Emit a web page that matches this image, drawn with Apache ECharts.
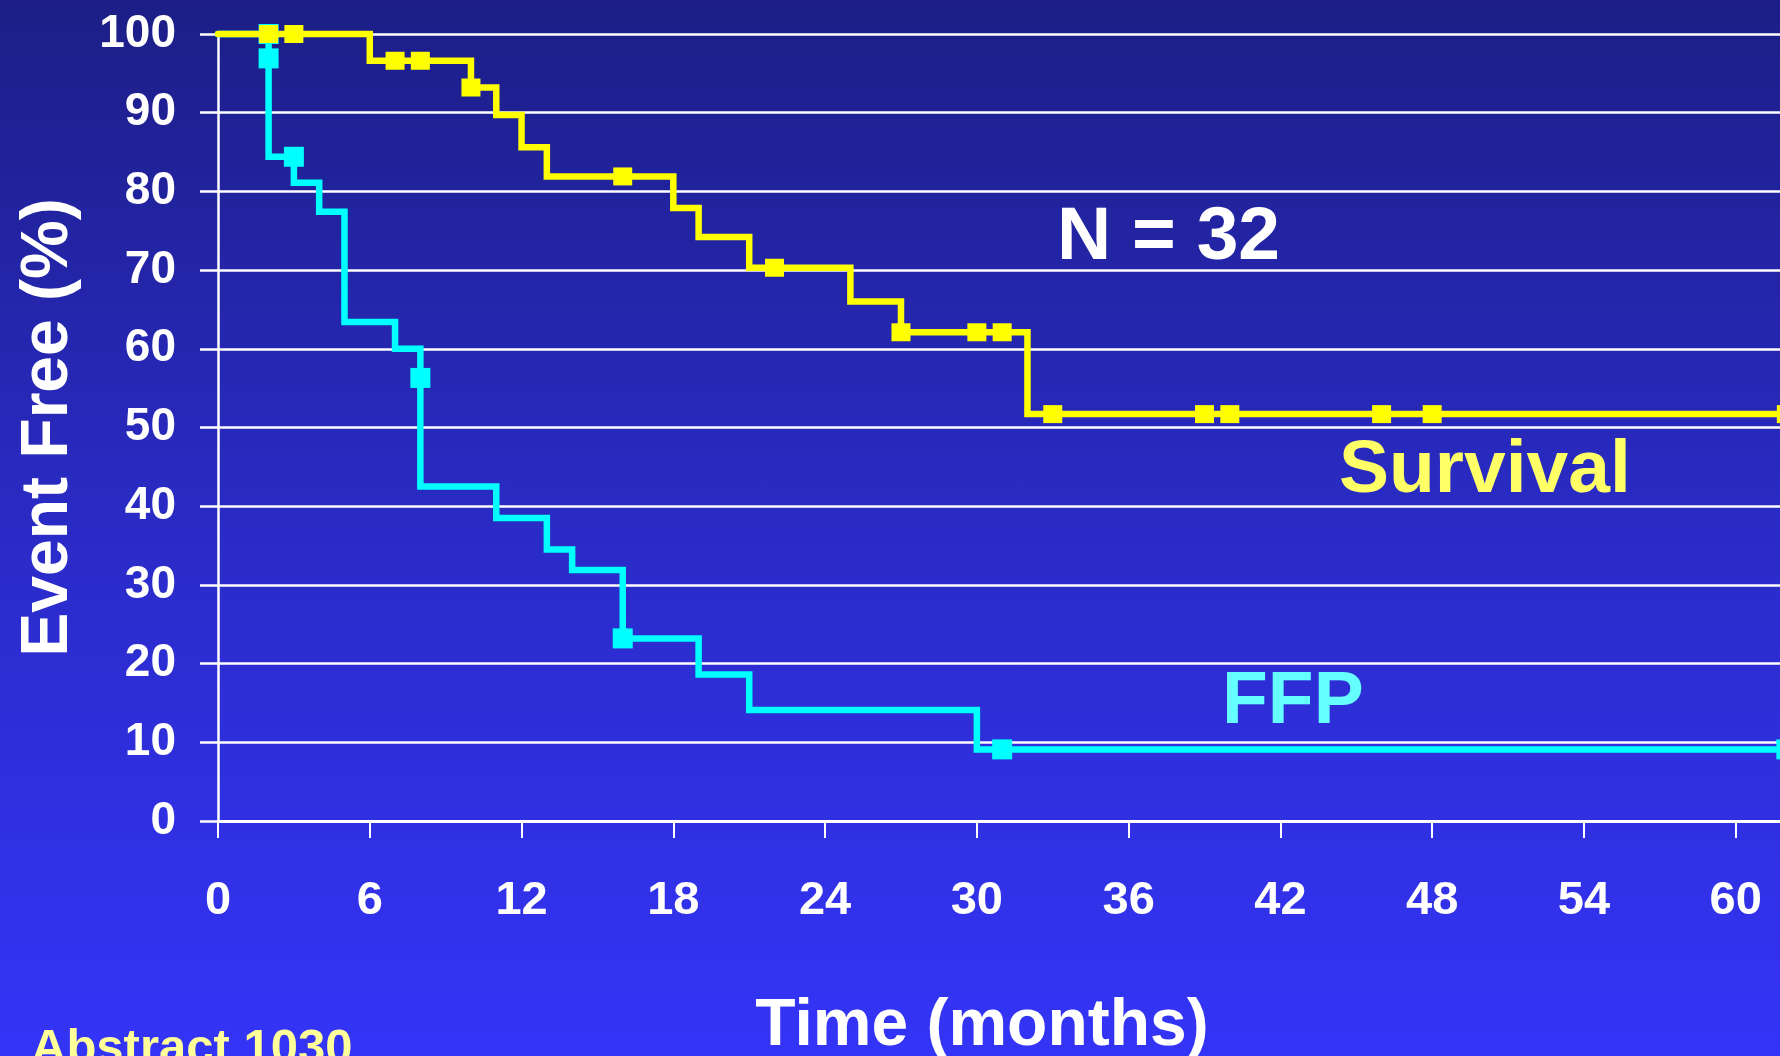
<!DOCTYPE html>
<html><head><meta charset="utf-8">
<script src="https://cdn.jsdelivr.net/npm/echarts@6/dist/echarts.min.js"></script>
<style>
html,body{margin:0;padding:0;width:1780px;height:1056px;overflow:hidden;}
#c{width:1780px;height:1056px;background:linear-gradient(to bottom,#1c1e86 0%,#2a2bc6 50%,#3434f8 100%);}
</style></head><body><div id="c"></div>
<script>
// Tick labels
const xTicks = [0, 6, 12, 18, 24, 30, 36, 42, 48, 54, 60];
const yTicks = [0, 10, 20, 30, 40, 50, 60, 70, 80, 90, 100];

// Survival (Kaplan-Meier steps: time of drop, level after drop)
const survTimes  = [0, 6, 10, 11, 12, 13, 18, 19, 21, 25, 27, 32, 62];
const survValues = [100, 96.6, 93.2, 89.7, 85.6, 81.9, 77.9, 74.2, 70.3, 66.0, 62.1, 51.7, 51.7];
const survCensorTimes  = [2, 3, 7, 8, 10, 16, 22, 27, 30, 31, 33, 39, 40, 46, 48, 62];
const survCensorValues = [100, 100, 96.6, 96.6, 93.2, 81.9, 70.3, 62.1, 62.1, 62.1, 51.7, 51.7, 51.7, 51.7, 51.7, 51.7];

// Freedom from progression
const ffpTimes  = [0, 2, 3, 4, 5, 7, 8, 11, 13, 14, 16, 19, 21, 30, 62];
const ffpValues = [100, 84.4, 81.1, 77.4, 63.4, 60.0, 42.5, 38.5, 34.5, 31.9, 23.2, 18.6, 14.1, 9.1, 9.1];
const ffpCensorTimes  = [2, 2, 3, 8, 16, 31, 62];
const ffpCensorValues = [100, 96.9, 84.4, 56.3, 23.2, 9.1, 9.1];

const zip = (a, b) => a.map((v, i) => [v, b[i]]);
const FONT = '"Liberation Sans", Arial, Helvetica, sans-serif';

const chart = echarts.init(document.getElementById('c'), null, {renderer: 'canvas'});
chart.setOption({
  backgroundColor: 'transparent',
  animation: false,
  grid: {left: 218, top: 34, right: 0, bottom: 235, containLabel: false, outerBoundsMode: 'none'},
  xAxis: {
    type: 'value',
    min: xTicks[0],
    max: 61.75,
    interval: xTicks[1] - xTicks[0],
    name: 'Time (months)',
    nameLocation: 'middle',
    nameGap: 173,
    nameTextStyle: {color: '#ffffff', fontSize: 66, fontWeight: 'bold', fontFamily: FONT, padding: [0, 34, 0, 0]},
    axisLine: {show: true, lineStyle: {color: '#ffffff', width: 3}},
    axisTick: {show: true, length: 17, lineStyle: {color: '#ffffff', width: 2}},
    axisLabel: {color: '#ffffff', fontSize: 47, fontWeight: 'bold', fontFamily: FONT, margin: 57, showMaxLabel: false,
      formatter: v => xTicks.indexOf(v) >= 0 ? String(v) : ''},
    splitLine: {show: false}
  },
  yAxis: {
    type: 'value',
    min: yTicks[0],
    max: yTicks[yTicks.length - 1],
    interval: yTicks[1] - yTicks[0],
    name: 'Event Free (%)',
    nameLocation: 'middle',
    nameRotate: 90,
    nameGap: 136,
    nameTextStyle: {color: '#ffffff', fontSize: 66, fontWeight: 'bold', fontFamily: FONT},
    axisLine: {show: true, lineStyle: {color: '#ffffff', width: 2.5}},
    axisTick: {show: true, length: 18, lineStyle: {color: '#ffffff', width: 2.5}},
    axisLabel: {color: '#ffffff', fontSize: 46, fontWeight: 'bold', fontFamily: FONT, margin: 42},
    splitLine: {show: true, lineStyle: {color: '#ffffff', width: 2.5}}
  },
  series: [
    {
      name: 'FFP', type: 'line', step: 'end', data: zip(ffpTimes, ffpValues),
      showSymbol: false, symbol: 'none', clip: false,
      lineStyle: {color: '#00ffff', width: 6.5, cap: 'round', join: 'miter'}, z: 2
    },
    {
      name: 'FFP censored', type: 'scatter', data: zip(ffpCensorTimes, ffpCensorValues),
      symbol: 'rect', symbolSize: [20, 20], clip: false,
      itemStyle: {color: '#00ffff', opacity: 1}, z: 3
    },
    {
      name: 'Survival', type: 'line', step: 'end', data: zip(survTimes, survValues),
      showSymbol: false, symbol: 'none', clip: false,
      lineStyle: {color: '#ffff00', width: 6.5, cap: 'round', join: 'miter'}, z: 4
    },
    {
      name: 'Survival censored', type: 'scatter', data: zip(survCensorTimes, survCensorValues),
      symbol: 'rect', symbolSize: [19, 18], clip: false,
      itemStyle: {color: '#ffff00', opacity: 1}, z: 5
    }
  ],
  graphic: [
    {type: 'text', x: 1057, y: 238, z: 10,
      style: {text: 'N = 32', fill: '#ffffff', fontSize: 75, fontWeight: 'bold', fontFamily: FONT, align: 'left', verticalAlign: 'middle'}},
    {type: 'text', x: 1339, y: 471, z: 10,
      style: {text: 'Survival', fill: '#ffff66', fontSize: 75, fontWeight: 'bold', fontFamily: FONT, align: 'left', verticalAlign: 'middle'}},
    {type: 'text', x: 1222, y: 702, z: 10,
      style: {text: 'FFP', fill: '#66ffff', fontSize: 75, fontWeight: 'bold', fontFamily: FONT, align: 'left', verticalAlign: 'middle'}},
    {type: 'text', x: 31, y: 1049, z: 10,
      style: {text: 'Abstract 1030', fill: '#ffff99', fontSize: 49, fontWeight: 'bold', fontFamily: FONT, align: 'left', verticalAlign: 'middle'}}
  ]
});
</script>
</body></html>
